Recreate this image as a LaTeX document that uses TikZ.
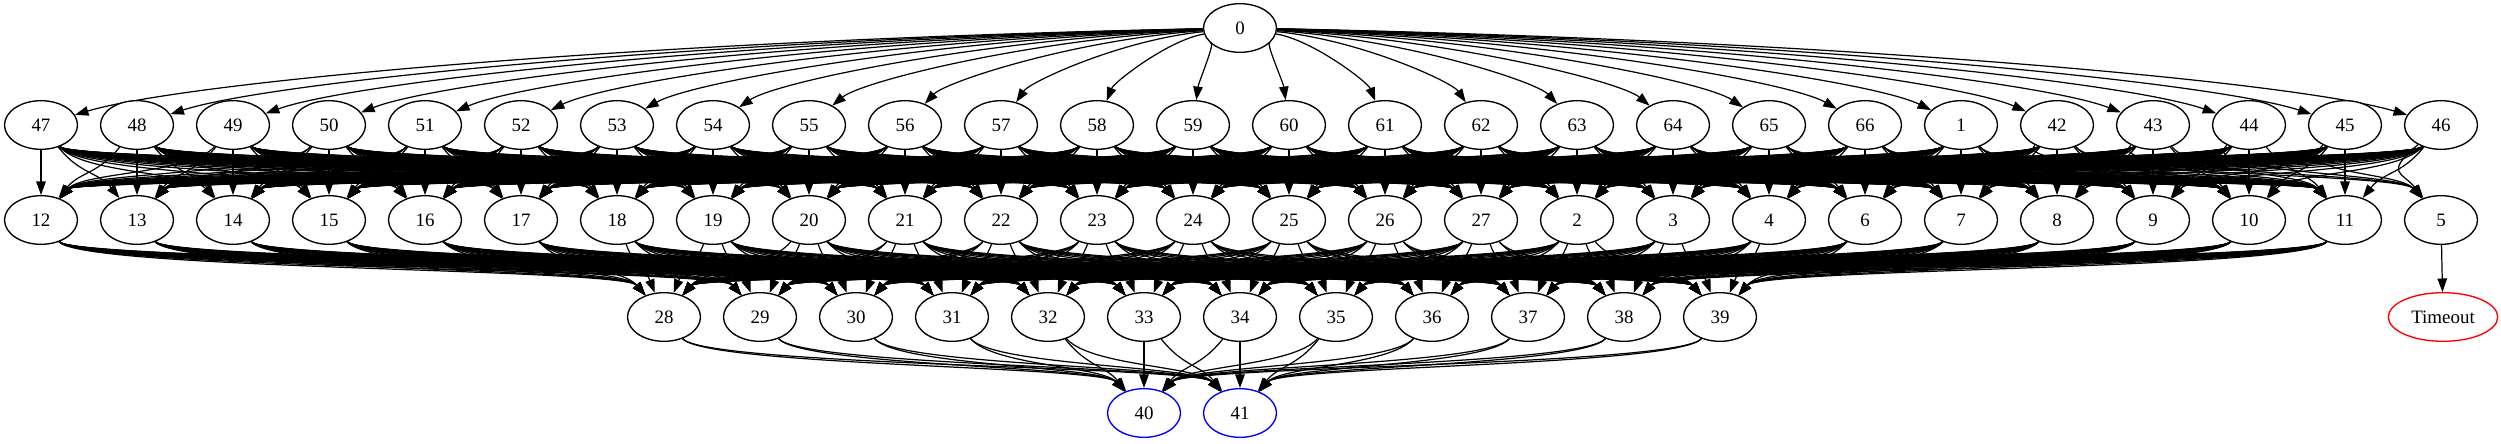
\documentclass[tikz,border=0pt]{standalone}
\usepackage{fontspec}
\setmainfont{Liberation Serif}
\usetikzlibrary{arrows.meta,shapes.geometric}
\pgfdeclarelayer{bg}
\pgfsetlayers{bg,main}
\begin{document}
\begin{tikzpicture}[x=0.74pt,y=-0.74pt,
  st/.style={ellipse,draw,fill=white,line width=1pt,minimum width=54pt,minimum height=36pt,inner sep=0pt,font=\fontsize{14}{16}\selectfont},
  arr/.style={-{Triangle[length=10pt,width=7pt]},line width=0.9pt}]
\useasboundingbox (0,0) rectangle (2501,443);
% nodes
\node[st] (n0) at (1240,28) {0};
\foreach \nm [count=\i from 0] in {47,48,...,66,1,42,43,44,45,46}
  \node[st] (n\nm) at ({41+96*\i},125) {\nm};
\foreach \nm [count=\i from 0] in {12,13,...,27,2,3,4,6,7,8,9,10,11,5}
  \node[st] (n\nm) at ({41+96*\i},220) {\nm};
\foreach \nm [count=\i from 0] in {28,29,...,39}
  \node[st] (n\nm) at ({664+96*\i},317) {\nm};
\node[st,draw={rgb,255:red,0;green,0;blue,255}] (n40) at (1144,413) {40};
\node[st,draw={rgb,255:red,0;green,0;blue,255}] (n41) at (1240,413) {41};
\node[st,draw={rgb,255:red,255;green,0;blue,0},minimum width=81pt] (nT) at (2443,317) {Timeout};
\begin{pgfonlayer}{bg}
% row 0 -> row 1
\foreach \nm [count=\i from 0] in {47,48,...,66,1,42,43,44,45,46}
  \draw[arr] (n0) .. controls ({1240+0.5*(41+96*\i-1240)},40) and ({41+96*\i-0.12*(41+96*\i-1240)},82) .. (n\nm);
% row 1 -> row 2
\foreach \s [count=\i from 0] in {47,48,...,66,1,42,43,44,45,46}{
  \foreach \t [count=\j from 0] in {12,13,...,27,2,3,4,6,7,8,9,10,11}{
    \pgfmathsetmacro\xa{41+96*\i}
    \pgfmathsetmacro\xb{41+96*\j}
    \pgfmathsetmacro\cc{max(-42,min(42,0.4*(\xb-\xa)))}
    \draw[arr] (n\s) .. controls ({\xa+\cc},174) and ({\xb-\cc},172) .. (n\t);
  }
}
\foreach \s [count=\i from 20] in {42,43,44,45,46}{
  \pgfmathsetmacro\xa{41+96*\i}
  \pgfmathsetmacro\xb{41+96*25}
  \pgfmathsetmacro\cc{max(-42,min(42,0.4*(\xb-\xa)))}
  \draw[arr] (n\s) .. controls ({\xa+\cc},174) and ({\xb-\cc},172) .. (n5);
}
% row 2 -> row 3
\foreach \s [count=\i from 0] in {12,13,...,27,2,3,4,6,7,8,9,10,11}{
  \foreach \t [count=\k from 0] in {28,29,...,39}{
    \pgfmathsetmacro\xa{41+96*\i}
    \pgfmathsetmacro\xb{664+96*\k}
    \pgfmathsetmacro\cc{max(-42,min(42,0.4*(\xb-\xa)))}
    \draw[arr] (n\s) .. controls ({\xa+\cc},270) and ({\xb-\cc},268) .. (n\t);
  }
}
% row 3 -> sinks
\foreach \s [count=\k from 0] in {28,29,...,39}{
  \foreach \t/\xt in {40/1144,41/1240}{
    \pgfmathsetmacro\xa{664+96*\k}
    \pgfmathsetmacro\cc{max(-42,min(42,0.4*(\xt-\xa)))}
    \draw[arr] (n\s) .. controls ({\xa+\cc},366) and ({\xt-\cc},366) .. (n\t);
  }
}
\draw[arr] (n5) -- (nT);
\end{pgfonlayer}
\end{tikzpicture}
\end{document}
